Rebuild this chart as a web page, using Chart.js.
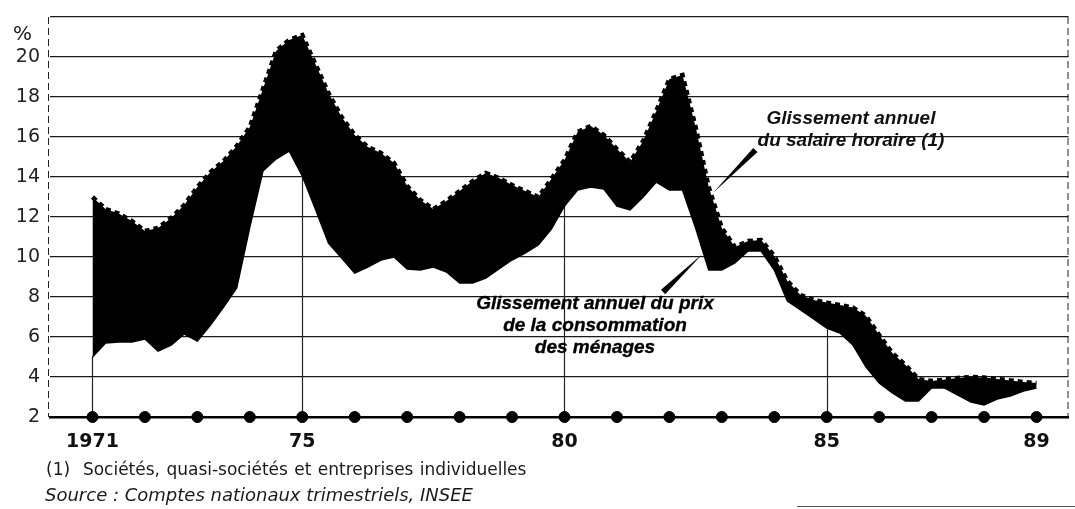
<!DOCTYPE html>
<html lang="fr">
<head>
<meta charset="utf-8">
<title>Glissement annuel du salaire horaire et du prix de la consommation</title>
<script src="https://cdn.jsdelivr.net/npm/chart.js@4.4.1/dist/chart.umd.min.js"></script>
<style>
  body { margin: 0; background: #fff; }
  #wrap { position: relative; width: 1075px; height: 509px; overflow: hidden; }
  #wrap canvas { position: absolute; left: 0; top: 0; }
  .lbl { position: absolute; color: #111; white-space: nowrap; }
  .note { font-family: 'Liberation Sans', Arial, sans-serif; font-weight: bold; font-style: italic;
          font-size: 19px; line-height: 22px; text-align: center; }
  .foot { font-family: 'DejaVu Sans', sans-serif; color: #1a1a1a; }
</style>
</head>
<body>
<div id="wrap">
  <canvas id="salaireChart" width="1075" height="509"></canvas>
  <div class="lbl foot" style="left:13px; top:21px; font-size:20px;">%</div>
  <div class="lbl note" style="left:716px; top:107px; width:270px;">Glissement annuel<br>du salaire horaire (1)</div>
  <div class="lbl note" style="left:440px; top:292px; width:310px; color:#000; -webkit-text-stroke:0.35px #000;">Glissement annuel du prix<br>de la consommation<br>des ménages</div>
  <div class="lbl foot" style="left:46px; top:459px; font-size:17px; word-spacing:1px;">(1)&nbsp; Sociétés, quasi-sociétés et entreprises individuelles</div>
  <div class="lbl foot" style="left:45px; top:484px; font-size:18px; font-style:italic;">Source : Comptes nationaux trimestriels, INSEE</div>
  <div style="position:absolute; left:797px; top:506px; width:278px; height:1px; background:#555;"></div>
</div>
<script>
// Glissement annuel (%) - données trimestrielles, 1971 T1 à 1989 T1
const wage = [
  13.0, 12.4, 12.17, 11.8,
  11.3, 11.45, 11.95, 12.6,
  13.5, 14.25, 14.8, 15.55,
  16.5, 18.4, 20.3, 20.85,
  21.1, 19.65, 18.2, 17.0,
  16.1, 15.5, 15.2, 14.7,
  13.55, 12.85, 12.4, 12.8,
  13.3, 13.8, 14.2, 13.95,
  13.6, 13.3, 13.0, 13.9,
  14.85, 16.25, 16.55, 16.1,
  15.4, 14.75, 15.8, 17.3,
  18.9, 19.1, 16.5, 13.5,
  11.45, 10.5, 10.8, 10.85,
  10.05, 8.8, 8.1, 7.85,
  7.72, 7.6, 7.47, 7.05,
  6.1, 5.2, 4.6, 3.9,
  3.8, 3.87, 3.95, 4.0,
  3.97, 3.9, 3.83, 3.75,
  3.7
];
const price = [
  5.0, 5.7, 5.75, 5.75,
  5.9, 5.3, 5.6, 6.15,
  5.8, 6.6, 7.5, 8.45,
  11.5, 14.3, 14.9, 15.3,
  14.05, 12.4, 10.7, 9.95,
  9.2, 9.5, 9.85, 10.0,
  9.4, 9.35, 9.5, 9.25,
  8.7, 8.7, 8.95, 9.4,
  9.85, 10.2, 10.6, 11.4,
  12.55, 13.35, 13.5, 13.4,
  12.55, 12.35, 13.0, 13.75,
  13.35, 13.35, 11.45, 9.35,
  9.35, 9.7, 10.3, 10.3,
  9.35, 7.8, 7.35, 6.9,
  6.45, 6.2, 5.6, 4.5,
  3.7, 3.2, 2.8, 2.8,
  3.45, 3.45, 3.1, 2.75,
  2.6, 2.9, 3.05, 3.3,
  3.45
];
const firstYear = 1971;
const quarters = wage.map((v, i) => firstYear + i / 4);

const dotYears = [1971, 1972, 1973, 1974, 1975, 1976, 1977, 1978, 1979, 1980,
                  1981, 1982, 1983, 1984, 1985, 1986, 1987, 1988, 1989];
const tickYears = [1971, 1975, 1980, 1985, 1989];
const dropYears = [1971, 1975, 1980, 1985];
const yTicks = [2, 4, 6, 8, 10, 12, 14, 16, 18, 20, 22];

// traits de rappel des commentaires (en unités du graphique)
const leaders = [
  { from: [1982.83, 13.2], to: [1983.64, 15.35] },
  { from: [1982.63, 10.15], to: [1981.88, 8.25] }
];

function wedge(ctx, x0, y0, x1, y1, w) {
  const dx = x1 - x0, dy = y1 - y0;
  const len = Math.hypot(dx, dy);
  const nx = -dy / len * w / 2, ny = dx / len * w / 2;
  ctx.beginPath();
  ctx.moveTo(x0, y0);
  ctx.lineTo(x1 + nx, y1 + ny);
  ctx.lineTo(x1 - nx, y1 - ny);
  ctx.closePath();
  ctx.fill();
}

const decor = {
  id: 'decor',
  beforeDatasetsDraw(chart) {
    const { ctx, chartArea } = chart;
    const x = chart.scales.x, y = chart.scales.y;
    ctx.save();
    ctx.strokeStyle = '#222';
    ctx.lineWidth = 1.2;
    dropYears.forEach(yr => {
      const i = quarters.indexOf(yr);
      const px = Math.round(x.getPixelForValue(yr)) + 0.5;
      ctx.beginPath();
      ctx.moveTo(px, y.getPixelForValue(2));
      ctx.lineTo(px, y.getPixelForValue(price[i]));
      ctx.stroke();
    });
    // bords gauche et droit en tirets
    ctx.setLineDash([7, 4]);
    ctx.lineWidth = 1;
    [chartArea.left - 1.5, chartArea.right - 0.5].forEach(px => {
      ctx.beginPath();
      ctx.moveTo(px, chartArea.top);
      ctx.lineTo(px, chartArea.bottom);
      ctx.stroke();
    });
    ctx.restore();
  },
  afterDatasetsDraw(chart) {
    const { ctx } = chart;
    const x = chart.scales.x, y = chart.scales.y;
    ctx.save();
    ctx.fillStyle = '#000';
    leaders.forEach(l => {
      wedge(ctx, x.getPixelForValue(l.from[0]), y.getPixelForValue(l.from[1]),
                 x.getPixelForValue(l.to[0]), y.getPixelForValue(l.to[1]), 6);
    });
    ctx.restore();
  }
};

const ctx = document.getElementById('salaireChart').getContext('2d');
new Chart(ctx, {
  type: 'line',
  data: {
    datasets: [{
      label: 'Glissement annuel du salaire horaire',
      data: quarters.map((q, i) => ({ x: q, y: wage[i] })),
      borderColor: '#000',
      borderWidth: 4.5,
      borderDash: [5, 4],
      backgroundColor: '#000',
      fill: '+1',
      pointRadius: 0,
      tension: 0
    }, {
      label: 'Glissement annuel du prix de la consommation des ménages',
      data: quarters.map((q, i) => ({ x: q, y: price[i] })),
      borderColor: '#000',
      borderWidth: 1.5,
      fill: false,
      pointRadius: 0,
      tension: 0
    }, {
      label: 'années',
      data: dotYears.map(yr => ({ x: yr, y: 2 })),
      showLine: false,
      pointRadius: 5.5,
      pointBackgroundColor: '#000',
      pointBorderColor: '#000',
      clip: false
    }]
  },
  options: {
    responsive: false,
    animation: false,
    layout: { padding: { top: 17, right: 1, bottom: 52, left: 0 } },
    plugins: {
      legend: { display: false },
      tooltip: { enabled: false }
    },
    scales: {
      x: {
        type: 'linear',
        min: 1970.19,
        max: 1989.61,
        afterBuildTicks: s => { s.ticks = tickYears.map(v => ({ value: v })); },
        afterFit: s => { s.height = 40; },
        ticks: {
          autoSkip: false,
          maxRotation: 0,
          padding: 6,
          color: '#111',
          font: { family: 'DejaVu Sans', size: 19, weight: 'bold' },
          callback: v => v === 1971 ? '1971' : String(v).slice(2)
        },
        grid: { display: false },
        border: { display: true, color: '#000', width: 2.5 }
      },
      y: {
        min: 2,
        max: 22,
        afterBuildTicks: s => { s.ticks = yTicks.map(v => ({ value: v })); },
        afterFit: s => { s.width = 50; },
        ticks: {
          autoSkip: false,
          padding: 10,
          color: '#222',
          font: { family: 'DejaVu Sans', size: 19, lineHeight: 0.6 },
          callback: v => v === 22 ? '' : String(v)
        },
        grid: { color: '#1a1a1a', lineWidth: 1.2, drawTicks: false },
        border: { display: false }
      }
    }
  },
  plugins: [decor]
});
</script>
</body>
</html>
